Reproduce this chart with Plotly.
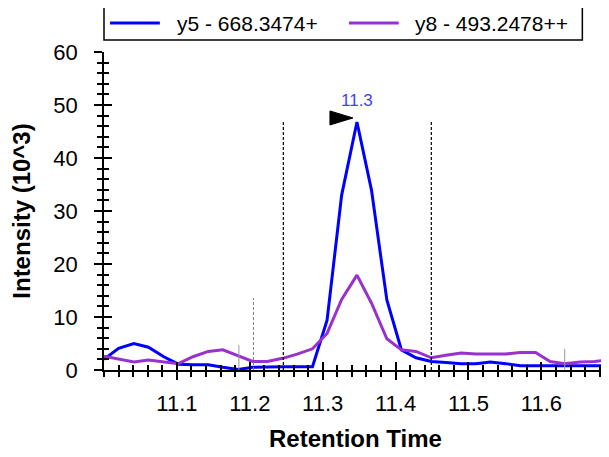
import plotly.graph_objects as go

# Retention time (min) of each sampled scan
times = [11.000, 11.020, 11.041, 11.061, 11.082, 11.102, 11.122, 11.143, 11.163, 11.184,
         11.204, 11.224, 11.245, 11.265, 11.286, 11.306, 11.326, 11.347, 11.367, 11.388,
         11.408, 11.428, 11.449, 11.469, 11.490, 11.510, 11.530, 11.551, 11.571, 11.592,
         11.612, 11.632, 11.653, 11.673, 11.694]

# Intensities (10^3)
y5 = [2.0, 4.1, 5.0, 4.3, 2.5, 1.1, 1.0, 1.0, 0.5, 0.1,
      0.5, 0.6, 0.6, 0.6, 0.6, 9.4, 33.0, 46.8, 33.9, 13.2,
      3.8, 2.3, 1.6, 1.4, 1.2, 1.2, 1.5, 1.2, 0.8, 0.8,
      0.8, 0.8, 0.8, 0.8, 0.8]
y8 = [2.6, 2.0, 1.5, 1.9, 1.6, 1.2, 2.5, 3.5, 3.8, 2.7,
      1.6, 1.6, 2.2, 3.0, 4.0, 6.9, 13.3, 17.9, 12.6, 5.9,
      3.8, 3.5, 2.3, 2.8, 3.2, 3.0, 3.0, 3.0, 3.3, 3.3,
      1.6, 1.2, 1.5, 1.6, 1.9]

series_names = ["y5 - 668.3474+", "y8 - 493.2478++"]
series_colors = ["#0000ff", "#9932cc"]

# integration boundaries and other marker lines
boundaries = [11.246, 11.449]
gray_dashed = [(11.205, 13.6)]
gray_solid = [(11.185, 4.7), (11.632, 4.0)]

peak_label = "11.3"
x_ticks = [11.1, 11.2, 11.3, 11.4, 11.5, 11.6]
x_range = [11.0, 11.69]
y_range = [0, 60]

font_fam = "Liberation Sans, Arial, sans-serif"

fig = go.Figure()
for name, vals, col in zip(series_names, [y5, y8], series_colors):
    fig.add_trace(go.Scatter(x=times, y=vals, mode="lines", name=name,
                             line=dict(color=col, width=3), showlegend=False))

peak_i = max(range(len(y5)), key=lambda i: y5[i])
peak_t, peak_v = times[peak_i], y5[peak_i]

for b in boundaries:
    fig.add_shape(type="line", x0=b, x1=b, y0=0, y1=peak_v, xref="x", yref="y",
                  line=dict(color="black", width=1.2, dash="3px,2px"))
for t, h in gray_dashed:
    fig.add_shape(type="line", x0=t, x1=t, y0=0, y1=h, xref="x", yref="y",
                  line=dict(color="#808080", width=1, dash="3px,2px"))
for t, h in gray_solid:
    fig.add_shape(type="line", x0=t, x1=t, y0=0, y1=h, xref="x", yref="y",
                  line=dict(color="#9a9a9a", width=1))

# peak marker (black flag pointing at the apex) and retention time label
fig.add_shape(type="path", xref="x", yref="y", xsizemode="pixel", ysizemode="pixel",
              xanchor=peak_t, yanchor=peak_v,
              path="M -27,11 L -27,-3 L -4,4 Z", fillcolor="black",
              line=dict(color="black", width=1))
fig.add_annotation(x=peak_t, y=peak_v, text=peak_label, showarrow=False, yshift=21,
                   font=dict(color="#3f3fff", size=17, family=font_fam))

# legend drawn as a bordered box (paper coordinates)
fig.add_shape(type="rect", xref="paper", yref="paper", x0=0.0, x1=0.951,
              y0=1.038, y1=1.145, line=dict(color="black", width=1.5),
              fillcolor="white")
leg_line_x = [(0.012, 0.111), (0.487, 0.586)]
leg_text_x = [0.141, 0.614]
for (lx0, lx1), tx, name, col in zip(leg_line_x, leg_text_x, series_names, series_colors):
    fig.add_shape(type="line", xref="paper", yref="paper", x0=lx0, x1=lx1,
                  y0=1.091, y1=1.091, line=dict(color=col, width=3))
    fig.add_annotation(xref="paper", yref="paper", x=tx, y=1.089, text=name,
                       showarrow=False, xanchor="left", yanchor="middle",
                       font=dict(size=21, color="black", family=font_fam))

common = dict(showline=True, linecolor="black", linewidth=1.5, showgrid=False,
              zeroline=False, tickcolor="black", tickwidth=1.5)

fig.update_layout(
    width=601, height=449,
    margin=dict(l=96, r=2, t=44, b=87),
    paper_bgcolor="white", plot_bgcolor="white",
    font=dict(family=font_fam, color="black", size=22),
    showlegend=False,
    xaxis=dict(range=x_range, tickmode="array", tickvals=x_ticks,
               ticktext=[f"{v:.1f}" for v in x_ticks], ticks="outside", ticklen=8,
               ticklabelstandoff=5,
               minor=dict(ticks="outside", ticklen=5, tick0=11.0, dtick=0.02,
                          tickcolor="black", tickwidth=1.5),
               title=dict(text="<b>Retention Time</b>", font=dict(size=24), standoff=15),
               **common),
    yaxis=dict(range=y_range, tick0=0, dtick=10, ticks="outside", ticklen=8,
               minor=dict(ticks="outside", ticklen=5, dtick=2,
                          tickcolor="black", tickwidth=1.5),
               ticklabelstandoff=12,
               title=dict(text="<b>Intensity (10^3)</b>", font=dict(size=24), standoff=16),
               **common),
    xaxis2=dict(range=x_range, overlaying="x", anchor="y", side="bottom",
                tickmode="array", tickvals=x_ticks, showticklabels=False,
                ticks="inside", ticklen=8,
                minor=dict(ticks="inside", ticklen=5, tick0=11.0, dtick=0.02,
                           tickcolor="black", tickwidth=1.5),
                **common),
    yaxis2=dict(range=y_range, overlaying="y", anchor="x", side="left",
                tick0=0, dtick=10, showticklabels=False, ticks="inside", ticklen=8,
                minor=dict(ticks="inside", ticklen=5, dtick=2,
                           tickcolor="black", tickwidth=1.5),
                **common),
)
# empty trace to activate the overlay axes (crossing tick marks)
fig.add_trace(go.Scatter(x=[None], y=[None], xaxis="x2", yaxis="y2",
                         showlegend=False, hoverinfo="skip"))

fig.write_html("out.html")
